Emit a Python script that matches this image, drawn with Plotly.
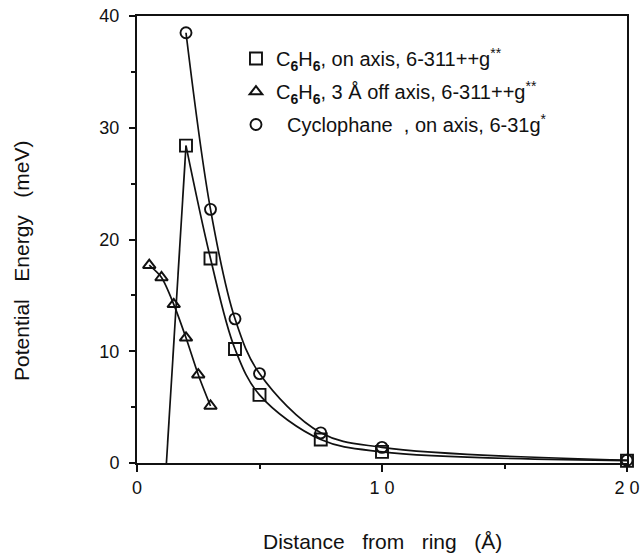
import plotly.graph_objects as go

# ---- data ----
sq_x = [2, 3, 4, 5, 7.5, 10, 20]
sq_y = [28.4, 18.3, 10.2, 6.1, 2.1, 1.0, 0.2]
sq_rise_x = [1.2, 2]          # steep rising branch of the C6H6 on-axis fit
sq_rise_y = [0.0, 28.4]

tri_x = [0.5, 1.0, 1.5, 2.0, 2.5, 3.0]
tri_y = [17.7, 16.6, 14.2, 11.2, 7.9, 5.1]

cyc_x = [2, 3, 4, 5, 7.5, 10, 20]
cyc_y = [38.5, 22.7, 12.9, 8.0, 2.7, 1.4, 0.25]

x_tick_vals = [0, 10, 20]
x_tick_labels = ["0", "1 0", "2 0"]
y_tick_vals = [0, 10, 20, 30, 40]
y_tick_labels = ["0", "10", "20", "30", "40"]

names = [
    "C<sub><b>6</b></sub>H<sub><b>6</b></sub>, on axis, 6-311++g<sup>**</sup>",
    "C<sub><b>6</b></sub>H<sub><b>6</b></sub>, 3 Å off axis, 6-311++g<sup>**</sup>",
    "\u00a0\u00a0Cyclophane\u00a0\u00a0, on axis, 6-31g<sup>*</sup>",
]

FONT = "Liberation Sans, Arial, Helvetica, sans-serif"
BLACK = "#111111"
SP = "\u00a0\u00a0\u00a0"

fig = go.Figure()

line_style = dict(color=BLACK, width=1.7)

# fitted curves
fig.add_trace(go.Scatter(x=sq_rise_x, y=sq_rise_y, mode="lines", line=line_style,
                         showlegend=False, hoverinfo="skip"))
fig.add_trace(go.Scatter(x=sq_x, y=sq_y, mode="lines", line=dict(**line_style, shape="spline", smoothing=1.0),
                         showlegend=False, hoverinfo="skip"))
fig.add_trace(go.Scatter(x=tri_x, y=tri_y, mode="lines", line=dict(**line_style, shape="spline", smoothing=0.8),
                         showlegend=False, hoverinfo="skip"))
fig.add_trace(go.Scatter(x=cyc_x, y=cyc_y, mode="lines", line=dict(**line_style, shape="spline", smoothing=1.0),
                         showlegend=False, hoverinfo="skip"))

# markers
fig.add_trace(go.Scatter(x=sq_x, y=sq_y, mode="markers", name=names[0], legendgroup="a",
                         marker=dict(symbol="square-open", size=12, color=BLACK, line=dict(width=1.9, color=BLACK)),
                         cliponaxis=False))
fig.add_trace(go.Scatter(x=tri_x, y=tri_y, mode="markers", name=names[1], legendgroup="b",
                         marker=dict(symbol="triangle-up-open", size=11, color=BLACK, line=dict(width=2, color=BLACK)),
                         cliponaxis=False))
fig.add_trace(go.Scatter(x=cyc_x, y=cyc_y, mode="markers", name=names[2], legendgroup="c",
                         marker=dict(symbol="circle-open", size=11, color=BLACK, line=dict(width=1.9, color=BLACK)),
                         cliponaxis=False))

fig.update_layout(
    width=640, height=555,
    margin=dict(l=137, r=13, t=16, b=92, autoexpand=False),
    paper_bgcolor="white", plot_bgcolor="white",
    font=dict(family=FONT, size=18, color=BLACK),
    legend=dict(x=0.202, y=0.9485, xanchor="left", yanchor="top",
                bgcolor="rgba(0,0,0,0)", font=dict(size=20, family=FONT, color=BLACK),
                tracegroupgap=4, itemwidth=30),
    annotations=[
        dict(text="Distance" + SP + "from" + SP + "ring" + SP + "(Å)", xref="paper", yref="paper",
             x=0.5, y=-0.1745, xanchor="center", yanchor="middle", showarrow=False,
             font=dict(size=21, family=FONT, color=BLACK)),
        dict(text="Potential" + SP + "Energy" + SP + "(meV)", xref="paper", yref="paper",
             x=-0.2347, y=0.452, xanchor="center", yanchor="middle", textangle=-90, showarrow=False,
             font=dict(size=21, family=FONT, color=BLACK)),
    ],
)

fig.update_xaxes(range=[0, 20], tickmode="array", tickvals=x_tick_vals, ticktext=x_tick_labels,
                 ticks="outside", ticklen=7, tickwidth=1.6, tickcolor=BLACK,
                 minor=dict(dtick=5, tick0=0, ticks="outside", ticklen=4, tickwidth=1.6, tickcolor=BLACK),
                 showline=True, linecolor=BLACK, linewidth=2, mirror=True, automargin=False,
                 showgrid=False, zeroline=False, tickfont=dict(size=18, family=FONT, color=BLACK))
fig.update_yaxes(range=[0, 40], tickmode="array", tickvals=y_tick_vals, ticktext=y_tick_labels,
                 ticks="outside", ticklen=6, tickwidth=1.6, tickcolor=BLACK,
                 minor=dict(dtick=5, tick0=0, ticks="outside", ticklen=4, tickwidth=1.6, tickcolor=BLACK),
                 showline=True, linecolor=BLACK, linewidth=2, mirror=True, automargin=False,
                 showgrid=False, zeroline=False, tickfont=dict(size=18, family=FONT, color=BLACK),
                 ticklabelstandoff=6)

fig.write_html("out.html", config={"displayModeBar": False},
               post_script="document.body.style.margin='0';")
